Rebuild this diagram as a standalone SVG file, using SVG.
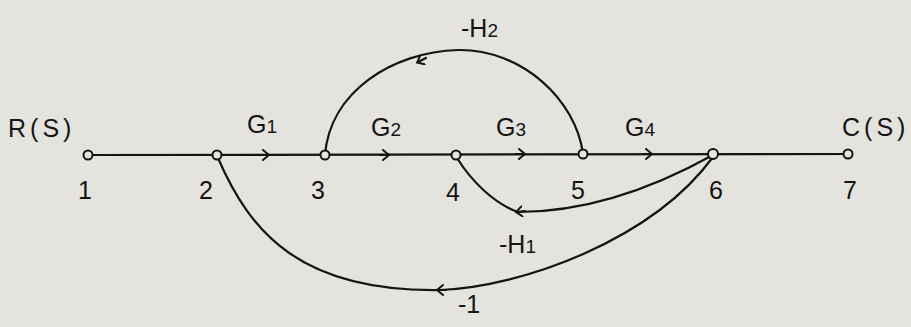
<svg xmlns="http://www.w3.org/2000/svg" width="911" height="327" viewBox="0 0 911 327">
<style>
.ln{fill:none;stroke:#141414;stroke-width:2.2;stroke-linecap:round;stroke-linejoin:round}
.nd{fill:#e6e5e0;stroke:#141414;stroke-width:2}
.t{font-family:"Liberation Sans",Arial,sans-serif;fill:#141414;font-size:25px}
.s{font-size:19px}
.w{letter-spacing:4px}
</style>
<defs>
<marker id="ah" viewBox="0 0 12 12" refX="6" refY="6" markerWidth="12" markerHeight="12" markerUnits="userSpaceOnUse" orient="auto">
<path d="M1,1 L7,6 L1,11" fill="none" stroke="#141414" stroke-width="2" stroke-linecap="round"/>
</marker>
</defs>
<rect width="911" height="327" fill="#e4e3de"/>
<g id="connectors">
<path class="ln" d="M88,155 L848,154"/>
<path class="ln" d="M260,155 L268,155" marker-end="url(#ah)"/>
<path class="ln" d="M380,155 L388,155" marker-end="url(#ah)"/>
<path class="ln" d="M516,154 L524,154" marker-end="url(#ah)"/>
<path class="ln" d="M643,154 L651,154" marker-end="url(#ah)"/>
<path class="ln" d="M325,155 C330,92 392,52 458,50 C522,49 576,100 583,154"/>
<path class="ln" d="M426,58 L418,62" marker-end="url(#ah)"/>
<path class="ln" d="M713,155 C650,190 585,212 518,212 C495,204 472,182 457,158"/>
<path class="ln" d="M525,211 L517,212" marker-end="url(#ah)"/>
<path class="ln" d="M713,157 C652,240 522,287 440,290 C300,292 250,232 218,158"/>
<path class="ln" d="M446,290 L438,290" marker-end="url(#ah)"/>
</g>
<g id="n1"><circle class="nd" cx="88" cy="155" r="4.5"/><text class="t" x="78" y="199">1</text><text class="t w" x="8" y="137">R(S)</text></g>
<g id="n2"><circle class="nd" cx="217" cy="155" r="4.5"/><text class="t" x="199" y="199">2</text></g>
<g id="n3"><circle class="nd" cx="325" cy="155" r="4.5"/><text class="t" x="311" y="199">3</text></g>
<g id="n4"><circle class="nd" cx="456" cy="155" r="4.5"/><text class="t" x="446" y="201">4</text></g>
<g id="n5"><circle class="nd" cx="583" cy="154" r="4.5"/><text class="t" x="571" y="199">5</text></g>
<g id="n6"><circle class="nd" cx="713" cy="154" r="5"/><text class="t" x="709" y="199">6</text></g>
<g id="n7"><circle class="nd" cx="848" cy="154" r="4.5"/><text class="t" x="843" y="199">7</text><text class="t w" x="842" y="136">C(S)</text></g>
<g id="labels">
<text class="t" x="247" y="133">G<tspan class="s">1</tspan></text>
<text class="t" x="371" y="136">G<tspan class="s">2</tspan></text>
<text class="t" x="496" y="136">G<tspan class="s">3</tspan></text>
<text class="t" x="625" y="136">G<tspan class="s">4</tspan></text>
<text class="t" x="461" y="37">-H<tspan class="s">2</tspan></text>
<text class="t" x="499" y="253">-H<tspan class="s">1</tspan></text>
<text class="t" x="458" y="313">-1</text>
</g>
</svg>
